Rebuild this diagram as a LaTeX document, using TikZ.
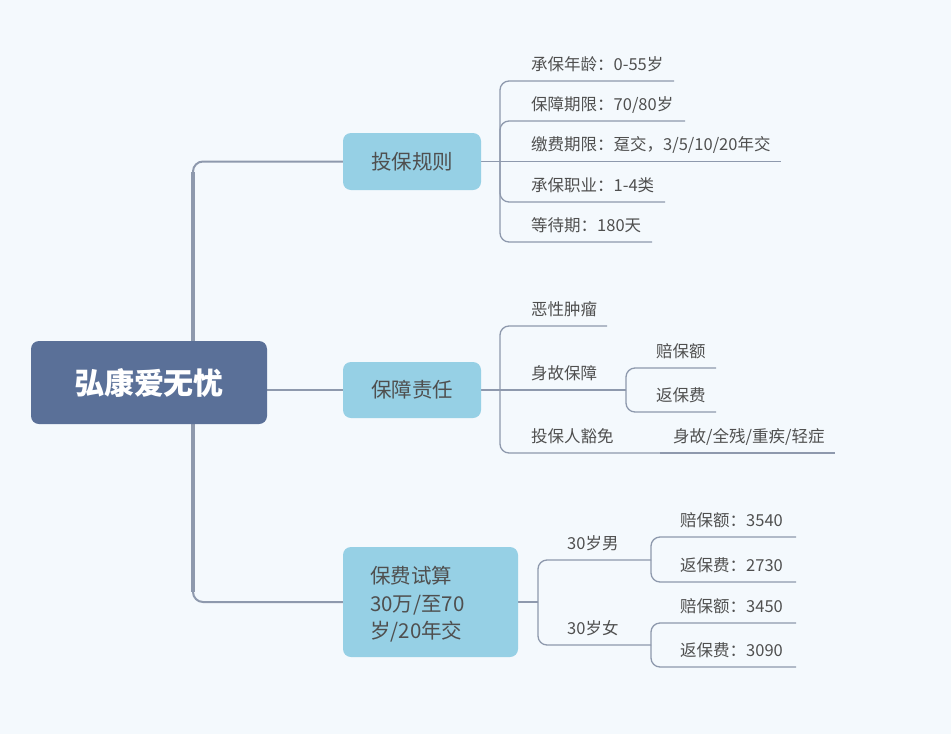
\documentclass[tikz,border=0pt]{standalone}
\usepackage{fontspec}
\setmainfont{Noto Sans CJK SC}
\usetikzlibrary{backgrounds}
\definecolor{bgc}{HTML}{F4F9FD}
\definecolor{linec}{HTML}{8E99AD}
\definecolor{rootc}{HTML}{5A7098}
\definecolor{topicc}{HTML}{96D0E5}
\definecolor{textc}{HTML}{4F4F4F}
\begin{document}
\begin{tikzpicture}[x=1pt,y=-1pt,
  conn/.style={draw=linec,line width=1.3pt,rounded corners=9pt},
  trunkline/.style={draw=linec,line width=2pt,rounded corners=10pt},
  leaf/.style={anchor=base west,inner sep=0pt,font=\fontsize{16.5}{18}\selectfont,text=textc},
  topic/.style={fill=topicc,rounded corners=8pt,inner sep=0pt,text=textc,font=\fontsize{20.5}{24}\selectfont},
  rootbox/.style={fill=rootc,rounded corners=8pt,inner sep=0pt,text=white,font=\fontsize{30}{34}\selectfont\bfseries}]
\useasboundingbox (0,0) rectangle (951,734);
% nodes
\node[rootbox,minimum width=236pt,minimum height=83pt] (root) at (149,382.5) {弘康爱无忧};
\node[topic,minimum width=138pt,minimum height=57pt] (b1) at (412,161.5) {投保规则};
\node[topic,minimum width=138pt,minimum height=56pt] (b2) at (412,390) {保障责任};
\node[topic,minimum width=175pt,minimum height=110pt] (b3) at (430.5,602) {};
\node[anchor=north west,inner sep=0pt,text=textc,align=left,font=\fontsize{20.5}{27.5}\selectfont] (b3t) at (370,566) {保费试算\\30万/至70\\岁/20年交};
% junction coordinates
\coordinate (tr) at (193,382.5);
\coordinate (j1) at (500,161.5);
\coordinate (j2) at (500,390);
\coordinate (j3) at (626,390);
\coordinate (j4) at (538,602);
\coordinate (j5) at (651,560);
\coordinate (j6) at (651,645);
% underline ends
\coordinate (e11) at (674,81);
\coordinate (e12) at (685,121);
\coordinate (e13) at (781,161.5);
\coordinate (e14) at (665,202);
\coordinate (e15) at (652,242);
\coordinate (e21) at (607,326);
\coordinate (e221) at (716,368);
\coordinate (e222) at (716,412);
\coordinate (e23) at (660,453);
\coordinate (e231) at (835,453);
\coordinate (e311) at (796,537);
\coordinate (e312) at (796,582);
\coordinate (e321) at (796,623);
\coordinate (e322) at (796,667);
% texts
\node[leaf] (t11) at (531,70) {承保年龄：0-55岁};
\node[leaf] (t12) at (531,110) {保障期限：70/80岁};
\node[leaf] (t13) at (531,150.5) {缴费期限：趸交，3/5/10/20年交};
\node[leaf] (t14) at (531,191) {承保职业：1-4类};
\node[leaf] (t15) at (531,231) {等待期：180天};
\node[leaf] (t21) at (531,315) {恶性肿瘤};
\node[leaf] (t22) at (531,379) {身故保障};
\node[leaf] (t221) at (656,357) {赔保额};
\node[leaf] (t222) at (656,401) {返保费};
\node[leaf] (t23) at (531,442) {投保人豁免};
\node[leaf] (t231) at (673,442) {身故/全残/重疾/轻症};
\node[leaf] (t31) at (567,549) {30岁男};
\node[leaf] (t311) at (680,526) {赔保额：3540};
\node[leaf] (t312) at (680,571) {返保费：2730};
\node[leaf] (t32) at (567,634) {30岁女};
\node[leaf] (t321) at (680,612) {赔保额：3450};
\node[leaf] (t322) at (680,656) {返保费：3090};
\begin{pgfonlayer}{background}
\fill[bgc] (0,0) rectangle (951,734);
% trunk
\draw[trunkline] (tr) |- (b1.west);
\draw[trunkline] (tr) |- (b3.west);
\draw[draw=linec,line width=3.2pt] (tr) -- (193,172);
\draw[draw=linec,line width=3.2pt] (tr) -- (193,592);
\draw[conn] (root.east |- b2.west) -- (b2.west);
% group 1
\draw[conn] (b1.east) -- (j1);
\draw[conn] (j1) |- (e11);
\draw[conn] (j1) |- (e12);
\draw[conn] (j1) -- (e13);
\draw[conn] (j1) |- (e14);
\draw[conn] (j1) |- (e15);
% group 2
\draw[conn] (b2.east) -- (j2);
\draw[conn] (j2) |- (e21);
\draw[conn] (j2) -- (j3);
\draw[conn] (j3) |- (e221);
\draw[conn] (j3) |- (e222);
\draw[conn] (j2) |- (e23);
\draw[conn] (e23) -- (e231);
% group 3
\draw[conn] (b3.east) -- (j4);
\draw[conn] (j4) |- (j5);
\draw[conn] (j4) |- (j6);
\draw[conn] (j5) |- (e311);
\draw[conn] (j5) |- (e312);
\draw[conn] (j6) |- (e321);
\draw[conn] (j6) |- (e322);
\end{pgfonlayer}
\end{tikzpicture}
\end{document}
